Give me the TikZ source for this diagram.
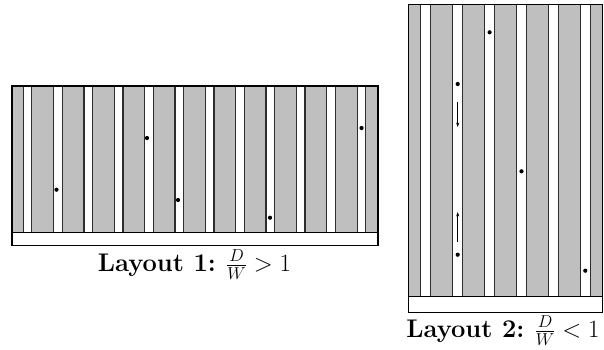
\documentclass[tikz,border=0pt]{standalone}
\usetikzlibrary{arrows.meta}
\definecolor{rackgray}{RGB}{191,191,191}
\definecolor{edgegray}{RGB}{45,45,45}
\begin{document}
\begin{tikzpicture}[x=1pt,y=-1pt,
  rackarea/.style={fill=rackgray,draw=edgegray,line width=1.3pt},
  aisle/.style={fill=white,draw=edgegray,line width=1.3pt},
  frame/.style={draw=black,line width=1.3pt},
  basestrip/.style={fill=white,draw=black,line width=1.3pt},
  robot/.style={circle,fill=black,inner sep=0pt,minimum size=4.2pt},
  moveto/.style={-{Stealth[length=4.5pt,width=3.2pt]},line width=0.8pt},
  caption/.style={font=\fontsize{25.5}{30}\selectfont,anchor=base,inner sep=0pt}]
\useasboundingbox (0,0) rectangle (604,349);
% ---------- Layout 1 ----------
\fill[rackarea] (12,86) rectangle (378,232.5);
\foreach \i in {0,...,11}{
  \pgfmathsetmacro{\c}{27.5+30.36*\i}
  \draw[aisle] (\c-4.3,86) rectangle (\c+4.3,232.5);
}
\draw[basestrip] (12,232.5) rectangle (378,245.5);
\draw[frame] (12,86) rectangle (378,245.5);
\node[robot] (r11) at (56.5,189.7) {};
\node[robot] (r12) at (147,138) {};
\node[robot] (r13) at (178,200) {};
\node[robot] (r14) at (270,217.7) {};
\node[robot] (r15) at (361.5,128) {};
\node[caption] (lab1) at (194.5,271) {\textbf{Layout 1:} $\frac{D}{W}>1$};
% ---------- Layout 2 ----------
\fill[rackarea] (408.7,4.7) rectangle (602.5,296.7);
\foreach \i in {0,...,5}{
  \pgfmathsetmacro{\c}{425.8+31.9*\i}
  \draw[aisle] (\c-5,4.7) rectangle (\c+5,296.7);
}
\draw[basestrip] (408.7,296.7) rectangle (602.5,312.3);
\draw[frame] (408.7,4.7) rectangle (602.5,312.3);
\node[robot] (r21) at (489.6,32.3) {};
\node[robot] (r22) at (457.7,84) {};
\node[robot] (r23) at (521.5,171.3) {};
\node[robot] (r24) at (457.7,254.7) {};
\node[robot] (r25) at (585.3,270.7) {};
\coordinate (a1s) at (457.7,101.7);
\coordinate (a1e) at (457.7,127);
\coordinate (a2s) at (457.7,242);
\coordinate (a2e) at (457.7,212);
\draw[moveto] (a1s) -- (a1e);
\draw[moveto] (a2s) -- (a2e);
\node[caption] (lab2) at (503,337) {\textbf{Layout 2:} $\frac{D}{W}<1$};
\end{tikzpicture}
\end{document}
